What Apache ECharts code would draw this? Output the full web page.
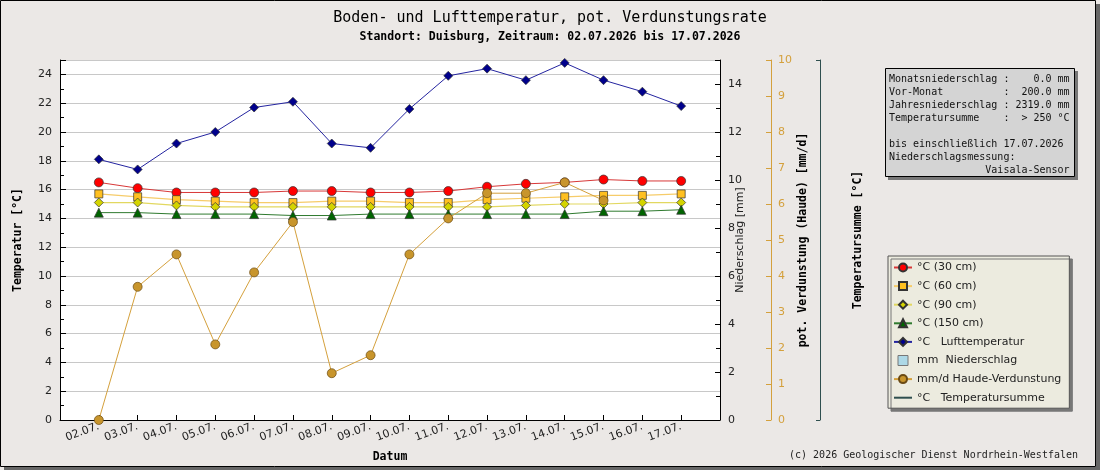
<!DOCTYPE html>
<html>
<head>
<meta charset="utf-8">
<script src="https://cdn.jsdelivr.net/npm/echarts@6/dist/echarts.min.js"></script>
<style>
  html, body { margin: 0; padding: 0; background: #ebe8e6; }
  #chart { width: 1100px; height: 470px; }
</style>
</head>
<body>
<div id="chart"></div>
<script>
// categories
const dates = ['02.07.', '03.07.', '04.07.', '05.07.', '06.07.', '07.07.', '08.07.', '09.07.',
  '10.07.', '11.07.', '12.07.', '13.07.', '14.07.', '15.07.', '16.07.', '17.07.']

// soil / air temperature [°C]
const temp30 = [16.5, 16.1, 15.8, 15.8, 15.8, 15.9, 15.9, 15.8, 15.8, 15.9, 16.2, 16.4, 16.5, 16.7, 16.6, 16.6]
const temp60 = [15.7, 15.5, 15.3, 15.2, 15.1, 15.1, 15.2, 15.2, 15.1, 15.1, 15.3, 15.4, 15.5, 15.6, 15.6, 15.7]
const temp90 = [15.1, 15.1, 14.9, 14.8, 14.8, 14.8, 14.8, 14.8, 14.8, 14.8, 14.8, 14.9, 15.0, 15.0, 15.1, 15.1]
const temp150 = [14.4, 14.4, 14.3, 14.3, 14.3, 14.2, 14.2, 14.3, 14.3, 14.3, 14.3, 14.3, 14.3, 14.5, 14.5, 14.6]
const tempAir = [18.1, 17.4, 19.2, 20.0, 21.7, 22.1, 19.2, 18.9, 21.6, 23.9, 24.4, 23.6, 24.8, 23.6, 22.8, 21.8]

// precipitation [mm], Haude evaporation [mm/d]
const rain = [0, 0, 0, 0, 0, 0, 0, 0, 0, 0, 0, 0, 0, 0, 0, 0]
const haude = [0, 3.7, 4.6, 2.1, 4.1, 5.5, 1.3, 1.8, 4.6, 5.6, 6.3, 6.3, 6.6, 6.1, null, null]
const tempSum = []

const infoLines = [
  'Monatsniederschlag :    0.0 mm',
  'Vor-Monat          :  200.0 mm',
  'Jahresniederschlag : 2319.0 mm',
  'Temperatursumme    :  > 250 °C',
  '',
  'bis einschließlich 17.07.2026',
  'Niederschlagsmessung:',
  '                Vaisala-Sensor'
]

const pts = (arr) => arr.map((v, i) => [i + 1, v])

const mono = 'DejaVu Sans Mono'
const sans = 'DejaVu Sans'
const gold = '#d4a03c'

const chart = echarts.init(document.getElementById('chart'))

const markerBorder = { borderColor: '#333', borderWidth: 0.7 }
const boldName = { fontFamily: mono, fontSize: 11.5, fontWeight: 'bold', color: '#000' }

const option = {
  backgroundColor: '#ebe8e6',
  animation: false,
  title: {
    text: 'Boden- und Lufttemperatur, pot. Verdunstungsrate',
    subtext: 'Standort: Duisburg, Zeitraum: 02.07.2026 bis 17.07.2026',
    left: 'center',
    top: 6,
    itemGap: 5,
    textStyle: { fontFamily: mono, fontSize: 15, fontWeight: 'normal', color: '#000' },
    subtextStyle: { fontFamily: mono, fontSize: 11.5, fontWeight: 'bold', color: '#000' }
  },
  grid: {
    left: 60, right: 380, top: 60, bottom: 50,
    show: true, backgroundColor: '#fff', borderWidth: 0
  },
  legend: {
    left: 888,
    top: 256,
    orient: 'vertical',
    selectedMode: false,
    itemWidth: 18,
    itemHeight: 10,
    itemGap: 7.6,
    padding: [6, 8, 5, 5],
    backgroundColor: '#ecebdf',
    borderColor: '#555',
    borderWidth: 1,
    shadowColor: '#777',
    shadowOffsetX: 3,
    shadowOffsetY: 3,
    shadowBlur: 0,
    textStyle: { fontFamily: sans, fontSize: 11, color: '#222' },
    data: [
      '°C (30 cm)', '°C (60 cm)', '°C (90 cm)', '°C (150 cm)', '°C   Lufttemperatur',
      {
        name: 'mm  Niederschlag',
        icon: 'path://M0,0 L10,0 L10,10 L0,10 Z',
        itemStyle: { color: '#add8e6', borderColor: '#777', borderWidth: 1 }
      },
      'mm/d Haude-Verdunstung',
      { name: '°C   Temperatursumme', icon: 'path://M0,0 L18,0 L18,2 L0,2 Z', itemStyle: { color: '#2f4f4f' } }
    ]
  },
  xAxis: {
    type: 'value',
    min: 0,
    max: 17,
    interval: 1,
    name: 'Datum',
    nameLocation: 'middle',
    nameGap: 31,
    nameMoveOverlap: false,
    nameTextStyle: boldName,
    axisLine: { lineStyle: { color: '#000' } },
    axisTick: { inside: true, length: 5, lineStyle: { color: '#000' } },
    splitLine: { show: false },
    axisLabel: {
      rotate: 20,
      margin: 6,
      fontFamily: sans,
      fontSize: 11,
      color: '#222',
      formatter: (v) => (v >= 1 && v <= dates.length ? dates[v - 1] : '')
    }
  },
  yAxis: [
    {
      type: 'value',
      min: 0, max: 25, interval: 2,
      name: 'Temperatur [°C]',
      nameLocation: 'middle',
      nameRotate: 90,
      nameGap: 36,
      nameMoveOverlap: false,
      nameTextStyle: boldName,
      axisLine: { show: true, lineStyle: { color: '#000' } },
      axisTick: { show: true, inside: true, length: 6, lineStyle: { color: '#000' } },
      minorTick: { show: true, splitNumber: 2, length: 4, lineStyle: { color: '#000' } },
      splitLine: { show: true, lineStyle: { color: '#c8c8c8' } },
      axisLabel: { showMaxLabel: false, fontFamily: sans, fontSize: 11, color: '#222', margin: 8 }
    },
    {
      type: 'value',
      position: 'right',
      min: 0, max: 15, interval: 2,
      name: 'Niederschlag [mm]',
      nameLocation: 'middle',
      nameRotate: 90,
      nameGap: 15,
      nameMoveOverlap: false,
      nameTextStyle: { fontFamily: sans, fontSize: 11, color: '#222' },
      axisLine: { show: true, lineStyle: { color: '#000' } },
      axisTick: { show: true, inside: true, length: 5, lineStyle: { color: '#000' } },
      minorTick: { show: true, splitNumber: 2, length: 4, lineStyle: { color: '#000' } },
      splitLine: { show: false },
      axisLabel: { showMaxLabel: false, fontFamily: sans, fontSize: 11, color: '#222', margin: 8 }
    },
    {
      type: 'value',
      position: 'right',
      offset: 51,
      min: 0, max: 10, interval: 1,
      name: 'pot. Verdunstung (Haude) [mm/d]',
      nameLocation: 'middle',
      nameRotate: 90,
      nameGap: 26,
      nameMoveOverlap: false,
      nameTextStyle: boldName,
      axisLine: { show: true, lineStyle: { color: gold } },
      axisTick: { show: true, inside: true, length: 5, lineStyle: { color: gold } },
      splitLine: { show: false },
      axisLabel: { fontFamily: sans, fontSize: 11, color: gold, margin: 7 }
    },
    {
      type: 'value',
      position: 'right',
      offset: 100,
      min: 0, max: 1, interval: 1,
      name: 'Temperatursumme [°C]',
      nameLocation: 'middle',
      nameRotate: 90,
      nameGap: 32,
      nameMoveOverlap: false,
      nameTextStyle: boldName,
      axisLine: { show: true, lineStyle: { color: '#2f4f4f' } },
      axisTick: { show: true, inside: true, length: 4, lineStyle: { color: '#2f4f4f' } },
      splitLine: { show: false },
      axisLabel: { show: false }
    }
  ],
  series: [
    {
      name: 'mm  Niederschlag', type: 'bar', yAxisIndex: 1, barWidth: 20,
      itemStyle: { color: '#add8e6', borderWidth: 0 },
      data: pts(rain)
    },
    {
      name: '°C (30 cm)', type: 'line', yAxisIndex: 0, symbol: 'circle', symbolSize: 9,
      lineStyle: { color: '#d83838', width: 1 },
      itemStyle: { color: '#ff0000', ...markerBorder },
      data: pts(temp30)
    },
    {
      name: '°C (60 cm)', type: 'line', yAxisIndex: 0, symbol: 'rect', symbolSize: 8,
      lineStyle: { color: '#f6cc6a', width: 1.2 },
      itemStyle: { color: '#ffc020', ...markerBorder },
      data: pts(temp60)
    },
    {
      name: '°C (90 cm)', type: 'line', yAxisIndex: 0, symbol: 'diamond', symbolSize: 9,
      lineStyle: { color: '#e2d860', width: 1.2 },
      itemStyle: { color: '#d4d400', ...markerBorder },
      data: pts(temp90)
    },
    {
      name: '°C (150 cm)', type: 'line', yAxisIndex: 0, symbol: 'triangle', symbolSize: 9,
      lineStyle: { color: '#2f7a2f', width: 1 },
      itemStyle: { color: '#006400', ...markerBorder },
      data: pts(temp150)
    },
    {
      name: '°C   Lufttemperatur', type: 'line', yAxisIndex: 0, symbol: 'diamond', symbolSize: 9,
      lineStyle: { color: '#2424a0', width: 1 },
      itemStyle: { color: '#00008c', ...markerBorder },
      data: pts(tempAir)
    },
    {
      name: 'mm/d Haude-Verdunstung', type: 'line', yAxisIndex: 2, symbol: 'circle', symbolSize: 9,
      lineStyle: { color: '#d4a03c', width: 1 },
      itemStyle: { color: '#c8952c', borderColor: '#6a4a14', borderWidth: 0.7 },
      data: pts(haude),
      z: 3
    },
    {
      name: '°C   Temperatursumme', type: 'line', yAxisIndex: 3, symbol: 'none',
      lineStyle: { color: '#2f4f4f', width: 2 },
      itemStyle: { color: '#2f4f4f' },
      data: pts(tempSum)
    }
  ],
  graphic: [
    // frame with shadow
    { type: 'rect', shape: { x: 4, y: 467, width: 1096, height: 3 }, style: { fill: '#666' }, silent: true },
    { type: 'rect', shape: { x: 1096, y: 4, width: 4, height: 466 }, style: { fill: '#666' }, silent: true },
    { type: 'rect', shape: { x: 0.5, y: 0.5, width: 1095, height: 466 }, style: { fill: 'none', stroke: '#000', lineWidth: 1 }, silent: true },
    // info box
    { type: 'rect', shape: { x: 888, y: 71, width: 190, height: 109 }, style: { fill: '#777' }, silent: true },
    { type: 'rect', shape: { x: 885.5, y: 68.5, width: 189, height: 108 }, style: { fill: '#d4d4d4', stroke: '#000', lineWidth: 1 }, silent: true },
    {
      type: 'text', left: 889, top: 72.5, silent: true,
      style: { text: infoLines.join('\n'), font: '10px "DejaVu Sans Mono"', lineHeight: 13, fill: '#111' }
    },
    {
      type: 'text', right: 22, top: 450, silent: true,
      style: { text: '(c) 2026 Geologischer Dienst Nordrhein-Westfalen', font: '10px "DejaVu Sans Mono"', fill: '#222' }
    }
  ]
}

chart.setOption(option)
</script>
</body>
</html>
